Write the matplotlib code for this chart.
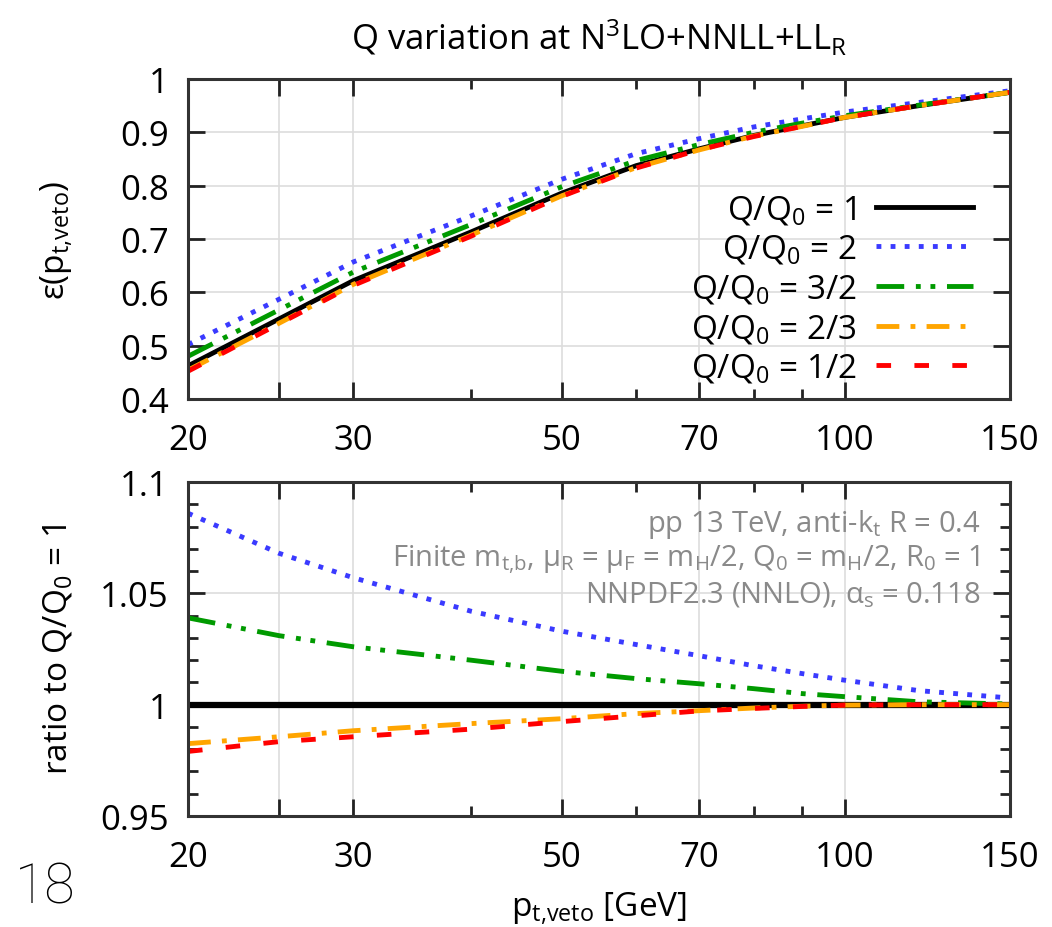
import numpy as np
import matplotlib
matplotlib.use("Agg")
import matplotlib.pyplot as plt
import matplotlib.ticker as tick

plt.rcParams['font.family'] = ['Open Sans', 'DejaVu Sans']
plt.rcParams['mathtext.default'] = 'regular'

# p_t,veto values [GeV]
ptveto = [20, 25, 30, 40, 50, 60, 70, 80, 90, 100, 120, 150]

# efficiency, top panel
eff_q1 = [0.462, 0.550, 0.622, 0.713, 0.786, 0.8375, 0.869, 0.894, 0.912, 0.928, 0.950, 0.975]
eff_q2 = [0.502, 0.587, 0.657, 0.743, 0.812, 0.860, 0.888, 0.910, 0.925, 0.938, 0.956, 0.978]
eff_q32 = [0.480, 0.567, 0.638, 0.727, 0.798, 0.847, 0.877, 0.900, 0.917, 0.931, 0.951, 0.975]
eff_q23 = [0.454, 0.542, 0.615, 0.707, 0.781, 0.834, 0.867, 0.893, 0.911, 0.928, 0.950, 0.975]
eff_q12 = [0.452, 0.541, 0.613, 0.705, 0.780, 0.833, 0.867, 0.892, 0.911, 0.928, 0.950, 0.975]

# ratio to Q/Q0 = 1, bottom panel
rat_q1 = [1.0] * 12
rat_q2 = [1.086, 1.068, 1.057, 1.042, 1.033, 1.027, 1.022, 1.0175, 1.014, 1.011, 1.0063, 1.003]
rat_q32 = [1.039, 1.031, 1.026, 1.020, 1.015, 1.0117, 1.0094, 1.0072, 1.005, 1.0036, 1.0013, 1.0003]
rat_q23 = [0.9825, 0.9856, 0.9883, 0.9915, 0.9937, 0.996, 0.9973, 0.9985, 0.9993, 0.9998, 1.0, 1.0]
rat_q12 = [0.979, 0.9834, 0.9856, 0.989, 0.9924, 0.995, 0.9972, 0.9983, 0.9992, 0.9998, 1.0, 1.0]

labels = [r'Q/Q$_{0}$ = 1', r'Q/Q$_{0}$ = 2', r'Q/Q$_{0}$ = 3/2',
          r'Q/Q$_{0}$ = 2/3', r'Q/Q$_{0}$ = 1/2']
styles = [
    dict(color='black', ls='-'),
    dict(color='#3a3aff', ls=(0, (1, 1.9))),
    dict(color='#009a00', ls=(0, (5.7, 2.4, 1, 2, 1, 2.4))),
    dict(color='#ffa500', ls=(0, (4.7, 2.3, 1, 2.3))),
    dict(color='#ff0000', ls=(0, (3, 4.8))),
]

xmajor = [20, 25, 30, 50, 70, 100, 150]
xminor = [40, 60, 80, 90]
xlabels = ['20', '', '30', '50', '70', '100', '150']

fig = plt.figure(figsize=(10.52, 9.28), dpi=100)
ax1 = fig.add_axes([0.1787, 0.569, 0.7814, 0.3448])
ax2 = fig.add_axes([0.1787, 0.1196, 0.7814, 0.3599])

for ax, data in [(ax1, [eff_q1, eff_q2, eff_q32, eff_q23, eff_q12]),
                 (ax2, [rat_q1, rat_q2, rat_q32, rat_q23, rat_q12])]:
    for y, lab, st in zip(data, labels, styles):
        lw = 4.5 if (ax is ax2 and st['ls'] == '-') else 3.5
        ax.plot(ptveto, y, color=st['color'], ls=st['ls'], lw=lw,
                dash_capstyle='butt', label=lab)
    ax.set_xscale('log')
    ax.set_xlim(20, 150)
    ax.xaxis.set_major_locator(tick.FixedLocator(xmajor))
    ax.xaxis.set_minor_locator(tick.FixedLocator(xminor))
    ax.xaxis.set_major_formatter(tick.FixedFormatter(xlabels))
    ax.xaxis.set_minor_formatter(tick.NullFormatter())
    ax.tick_params(which='both', direction='in', top=True, right=True,
                   labelsize=25, color='#222222', width=2)
    ax.tick_params(axis='x', pad=17)
    ax.tick_params(axis='y', pad=14)
    ax.tick_params(which='major', length=12)
    ax.tick_params(which='minor', length=7)
    ax.grid(True, which='major', color='#dddddd', lw=1.2)
    ax.set_axisbelow(True)
    for s in ax.spines.values():
        s.set_linewidth(2.2)
        s.set_color('#333333')

ax1.set_ylim(0.4, 1.0)
ax1.yaxis.set_major_locator(tick.MultipleLocator(0.1))
ax1.yaxis.set_major_formatter(tick.FuncFormatter(lambda v, p: '%g' % round(v, 2)))
fig.text(0.569, 0.959, r'Q variation at N$^{3}$LO+NNLL+LL$_{R}$', fontsize=25,
         ha='center', va='center')
ax1.set_ylabel(r'ε(p$_{t{,}veto}$)', fontsize=24)
ax1.yaxis.set_label_coords(-0.138, 0.5)

leg = ax1.legend(loc='lower right', bbox_to_anchor=(0.955, 0.044), frameon=False,
                 markerfirst=False, fontsize=24, handlelength=2.9,
                 handletextpad=0.6, labelspacing=0.2, borderpad=0,
                 borderaxespad=0)

ax2.set_ylim(0.95, 1.1)
ax2.yaxis.set_major_locator(tick.FixedLocator([0.95, 1.0, 1.05, 1.1]))
ax2.yaxis.set_major_formatter(tick.FuncFormatter(lambda v, p: '%g' % round(v, 3)))
ax2.yaxis.set_minor_locator(tick.MultipleLocator(0.01))
ax2.set_ylabel(r'ratio to Q/Q$_{0}$ = 1', fontsize=24)
ax2.yaxis.set_label_coords(-0.138, 0.5)
ax2.set_xlabel(r'p$_{t{,}veto}$ [GeV]', fontsize=24, labelpad=11)

notes = [r'pp 13 TeV, anti-k$_{t}$ R = 0.4',
         r'Finite m$_{t{,}b}$, μ$_{R}$ = μ$_{F}$ = m$_{H}$/2, Q$_{0}$ = m$_{H}$/2, R$_{0}$ = 1',
         r'NNPDF2.3 (NNLO), α$_{s}$ = 0.118']
for i, t in enumerate(notes):
    ax2.text(0.9635, 0.875 - i * 0.105, t, transform=ax2.transAxes, ha='right',
             va='center', fontsize=21, color='#8a8a8a')

fig.text(0.043, 0.043, '18', fontsize=40, family='Roboto', weight='light',
         ha='center', va='center')

fig.savefig('out.png', dpi=100)
